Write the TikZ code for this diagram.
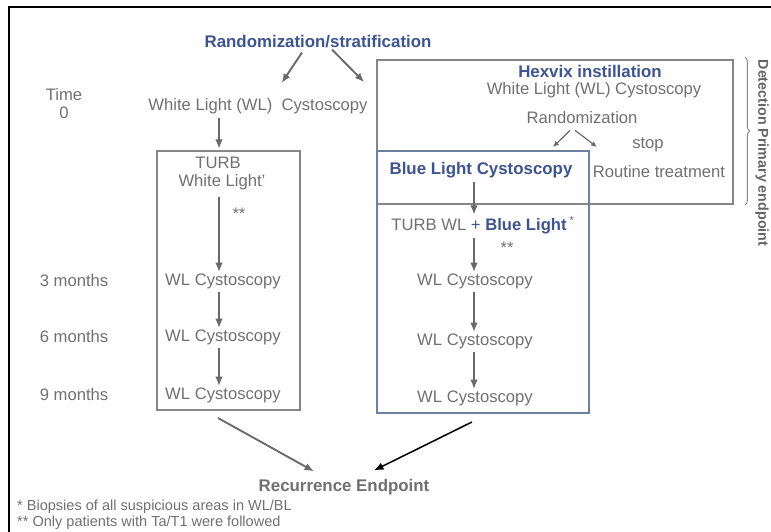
\documentclass[tikz,border=0pt]{standalone}
\usepackage{fontspec}
\setmainfont{Liberation Sans}
\usetikzlibrary{arrows.meta,calc,decorations.pathreplacing}
\definecolor{txtgray}{RGB}{112,112,112}
\definecolor{hexblue}{RGB}{62,84,140}
\definecolor{boxgray}{RGB}{135,135,135}
\definecolor{boxblue}{RGB}{110,128,160}
\definecolor{arrgray}{RGB}{105,105,105}
\begin{document}
\begin{tikzpicture}[x=0.03cm, y=-0.03cm, >={Latex[length=8pt,width=6.5pt]},
    every node/.style={inner sep=0pt, text=txtgray, font=\fontsize{14.2}{16}\selectfont},
    title node/.style={text=hexblue, font=\fontsize{14.4}{16}\selectfont\bfseries},
    note node/.style={anchor=west, font=\fontsize{12.4}{14}\selectfont},
    flow/.style={draw=arrgray, line width=1.6pt, shorten <=3pt, shorten >=1pt},
    small flow/.style={draw=arrgray, line width=1pt, >={Latex[length=5pt,width=4.5pt]}},
    box/.style={draw=boxgray, line width=0.9pt}]
            \clip (0,0) rectangle (771,532);
            \draw[line width=1.5pt] (771,7) -| (9,545);

            \node[title node] at (318, 42) (rand) {Randomization/stratification};
            \node at (64, 95) (time) {Time};
            \node at (64, 113) (zero) {0};
            \node at (258, 106) (wl0) {White Light (WL)\ \ Cystoscopy};

            \draw[box] (157,151) rectangle (300,410);
            \coordinate (lcol) at (219,0);
            \coordinate (lboxin) at (219,150);
            \node at (218, 163) (turb) {TURB};
            \node at (222, 182) (wlt) {White Light'};
            \node at (239, 214) (stars1) {**};
            \node at (74, 281) (m3) {3 months};
            \node at (223, 281) (wla) {WL Cystoscopy};
            \node at (74, 337) (m6) {6 months};
            \node at (223, 337) (wlb) {WL Cystoscopy};
            \node at (74, 395) (m9) {9 months};
            \node at (223, 395) (wlc) {WL Cystoscopy};

            \draw[box] (377,60) rectangle (733,204);
            \node[title node] at (590, 71) (hex) {Hexvix instillation};
            \node at (594, 90) (wlh) {White Light (WL) Cystoscopy};
            \node at (582, 118) (rnd) {Randomization};
            \node at (648, 145) (stop) {stop};
            \node at (659, 172) (rout) {Routine treatment};

            \draw[box, draw=boxblue] (377,151) rectangle (589,413);
            \coordinate (rcol) at (474,0);
            \node[title node] at (481, 170) (blc) {Blue Light Cystoscopy};
            \node at (483, 225) (turbb) {TURB WL \textcolor{hexblue}{+ \bfseries Blue Light}\,\textsuperscript{*}};
            \node at (507, 248) (stars2) {**};
            \node at (475, 281) (wld) {WL Cystoscopy};
            \node at (475, 341) (wle) {WL Cystoscopy};
            \node at (475, 398) (wlf) {WL Cystoscopy};

            \node[title node, text=txtgray] at (344, 487) (rec) {Recurrence Endpoint};
            \node[note node] at (17, 507) (note1) {* Biopsies of all suspicious areas in WL/BL};
            \node[note node] at (17, 523) (note2) {** Only patients with Ta/T1 were followed};

            \draw[decorate, decoration={brace, amplitude=4pt}, draw=boxgray, line width=0.8pt] (745,57) -- (745,205);
            \node[rotate=-90, font=\fontsize{12.2}{14}\selectfont\bfseries, text=txtgray!90!black] at (762, 153) (detect) {Detection Primary endpoint};

            \path[->] ($(rand.south)+(-16,4)$) edge[flow, shorten <=0pt] (281,84);
            \path[->] ($(rand.south)+(14,1)$) edge[flow, shorten <=0pt] (365,83);
            \path[->] (wl0.south -| lcol) edge[flow] (lboxin);
            \path[->] (wlt.south -| lcol) edge[flow, shorten <=6pt] (wla.north -| lcol);
            \path[->] (wla.south -| lcol) edge[flow] (wlb.north -| lcol);
            \path[->] (wlb.south -| lcol) edge[flow] (wlc.north -| lcol);

            \path[->] ($(rnd.south)+(-12,6)$) edge[small flow] (553,147);
            \path[->] ($(rnd.south)+(-7,6)$) edge[small flow] (597,147);

            \path[->] (blc.south -| rcol) edge[flow] (turbb.north -| rcol);
            \path[->] (turbb.south -| rcol) edge[flow] (wld.north -| rcol);
            \path[->] (wld.south -| rcol) edge[flow] (wle.north -| rcol);
            \path[->] (wle.south -| rcol) edge[flow] (wlf.north -| rcol);

            \coordinate (lout) at (218,418);
            \coordinate (rout) at (472,422);
            \path[->] (lout) edge[flow, shorten <=0pt] ($(rec.north)+(-29,-7)$);
            \path[->] (rout) edge[flow, draw=black, line width=1.3pt, shorten <=0pt] ($(rec.north)+(29,-8)$);

            \end{tikzpicture}
\end{document}
